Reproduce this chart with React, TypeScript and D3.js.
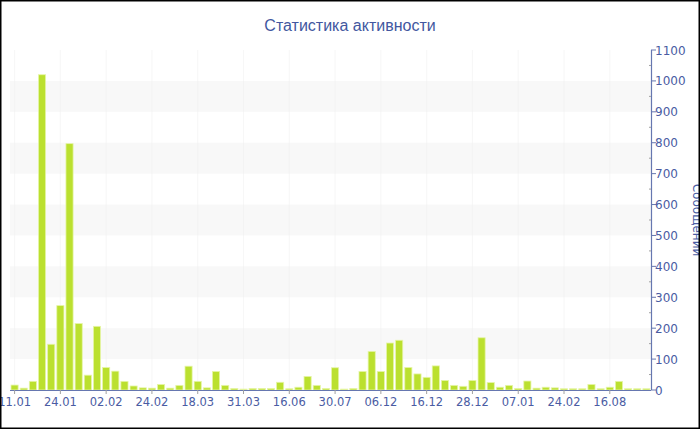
import React from "react";
import * as d3 from "d3";

const title = "Статистика активности";
const yTitle = "Сообщений";
const tickLabels = ["11.01", "24.01", "02.02", "24.02", "18.03", "31.03", "16.06", "30.07", "06.12", "16.12", "28.12", "07.01", "24.02", "16.08"];
const tickEvery = 5;
const values = [
  16, 6, 28, 1020, 148, 273, 797, 215, 48, 206,
  73, 61, 28, 13, 7, 6, 18, 6, 15, 77,
  28, 7, 60, 15, 5, 3, 5, 5, 5, 25,
  4, 9, 44, 15, 5, 72, 3, 5, 60, 125,
  60, 152, 161, 73, 52, 41, 78, 31, 15, 12,
  31, 169, 24, 9, 15, 5, 29, 6, 9, 7,
  4, 4, 4, 18, 4, 9, 28, 4, 4, 4,
];
const yTicks = [0, 100, 200, 300, 400, 500, 600, 700, 800, 900, 1000, 1100];
const yMinor = [50, 150, 250, 350, 450, 550, 650, 750, 850, 950, 1050];

const W = 700, H = 430;
const left = 10, right = 651, top = 50, bottom = 390;
const axisColor = "#6677b0";
const labelColor = "#4a5ca3";
const font = "DejaVu Sans, Verdana, sans-serif";

export default function App() {
  const x = d3.scaleBand<number>().domain(d3.range(values.length)).range([left, right]).paddingInner(0.22).paddingOuter(0.11);
  const xc = (i: number) => (x(i) as number) + x.bandwidth() / 2;
  const y = d3.scaleLinear().domain([0, 1100]).range([bottom, top]);
  const bands = yTicks.slice(0, -1).filter((v) => (v / 100) % 2 === 1);
  const tickIdx = tickLabels.map((_, k) => k * tickEvery);
  return (
    <svg width={W} height={H} style={{ position: "absolute", left: 0, top: 0, display: "block" }} fontFamily={font}>
      <rect x={0} y={0} width={W} height={H} fill="#fff" />
      {bands.map((v) => (
        <rect key={v} x={left} y={y(v + 100)} width={right - left} height={y(v) - y(v + 100)} fill="#f8f8f8" />
      ))}
      {tickIdx.map((i) => (
        <line key={i} x1={xc(i)} x2={xc(i)} y1={top} y2={bottom} stroke="#f0f0f0" strokeWidth={1} opacity={0.5} />
      ))}
      {values.map((v, i) => (
        <rect key={i} x={x(i)} y={y(v)} width={x.bandwidth()} height={y(0) - y(v)} fill="#bbe02f" stroke="#e6f5a8" strokeWidth={0.8} />
      ))}
      <line x1={left} x2={right} y1={bottom + 0.5} y2={bottom + 0.5} stroke={axisColor} strokeWidth={1.2} />
      {tickIdx.map((i, k) => (
        <g key={i}>
          <line x1={xc(i)} x2={xc(i)} y1={bottom} y2={bottom + 4} stroke="#a0a0a0" />
          <text x={xc(i)} y={bottom + 16} textAnchor="middle" fontSize={11.5} fill={labelColor}>{tickLabels[k]}</text>
        </g>
      ))}
      <line x1={right + 0.5} x2={right + 0.5} y1={top} y2={bottom} stroke={axisColor} strokeWidth={1.2} />
      {yMinor.map((v) => (
        <line key={v} x1={right - 2} x2={right} y1={y(v)} y2={y(v)} stroke="#a0a0a0" />
      ))}
      {yTicks.map((v) => (
        <g key={v}>
          <line x1={right} x2={right + 5} y1={y(v)} y2={y(v)} stroke={axisColor} />
          <text x={right + 4} y={y(v) + 4.5} fontSize={12} fill={labelColor}>{v}</text>
        </g>
      ))}
      <text transform={`translate(${693},${(top + bottom) / 2}) rotate(90)`} textAnchor="middle" fontSize={12} fill={labelColor}>{yTitle}</text>
      <text x={W / 2} y={31} textAnchor="middle" fontSize={16} fontFamily="Liberation Sans, Arial, sans-serif" fill="#4257a0">{title}</text>
      <rect x={0.75} y={0.75} width={W - 1.5} height={H - 2.5} fill="none" stroke="#000" strokeWidth={1.5} />
    </svg>
  );
}
